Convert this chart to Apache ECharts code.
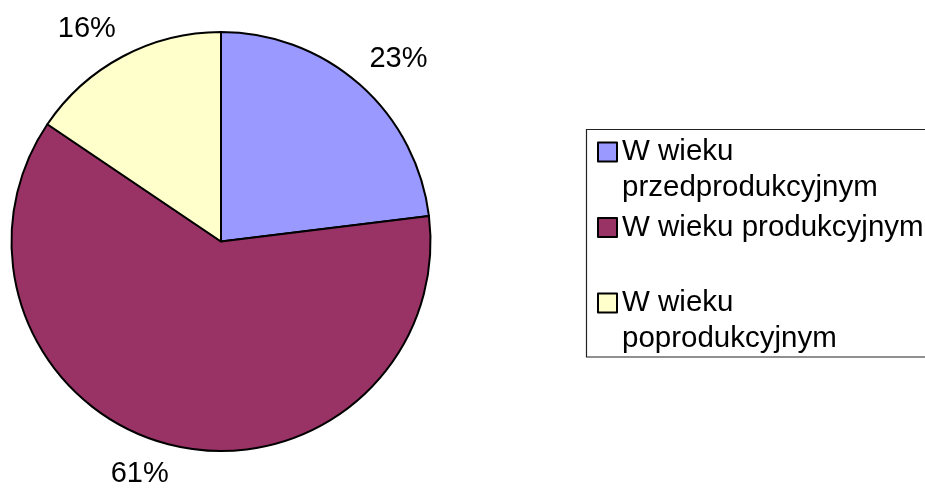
<!DOCTYPE html>
<html>
<head>
<meta charset="utf-8">
<script src="https://cdn.jsdelivr.net/npm/echarts@6/dist/echarts.min.js"></script>
<style>
  html, body { margin: 0; padding: 0; background: #fff; }
  #chart { width: 925px; height: 488px; }
</style>
</head>
<body>
<div id="chart"></div>
<script>
// data
const categories = ["W wieku przedprodukcyjnym", "W wieku produkcyjnym", "W wieku poprodukcyjnym"];
const legendLabels = ["W wieku\nprzedprodukcyjnym", "W wieku produkcyjnym", "W wieku\npoprodukcyjnym"];
const shares = [23.05, 61.4, 15.55];
const sliceColors = ["#9999ff", "#993366", "#ffffcc"];

const pieCenter = [221, 241.5];
const pieRadius = 209.5;
const fontFamily = "Liberation Sans, Arial, sans-serif";
const fontSize = 29;
const legendLineHeight = 36;

const chart = echarts.init(document.getElementById("chart"));

const total = shares.reduce((a, b) => a + b, 0);

// anchor each percentage just past the rim on the slice's middle direction,
// with the text box hanging off that point away from the pie (like the office chart)
function placeLabel(params) {
  let before = 0;
  for (let i = 0; i < params.dataIndex; i++) before += shares[i];
  const mid = (90 - 360 * (before + shares[params.dataIndex] / 2) / total) * Math.PI / 180;
  const ux = Math.cos(mid);
  const uy = -Math.sin(mid);
  const dist = pieRadius + 14.5;
  return {
    x: pieCenter[0] + ux * dist,
    y: pieCenter[1] + uy * dist,
    align: ux >= 0 ? "left" : "right",
    verticalAlign: uy < 0 ? "bottom" : "top",
  };
}

// one legend per entry so the marker sits on the first text line
const legendTops = [98, 209.5, 249];

const legends = categories.map((name, i) => {
  const wrapped = legendLabels[i].indexOf("\n") >= 0;
  return {
    left: 597,
    top: legendTops[i],
    orient: "vertical",
    padding: 0,
    icon: "rect",
    itemWidth: 19,
    itemHeight: 19,
    selectedMode: false,
    data: [
      {
        name: name,
        itemStyle: { color: sliceColors[i], borderColor: "#000", borderWidth: 2 },
      },
    ],
    formatter: function () {
      // a blank first line keeps the marker level with the first real line
      return wrapped ? "\u00a0\n" + legendLabels[i] : legendLabels[i];
    },
    textStyle: {
      fontFamily: fontFamily,
      fontSize: 29.5,
      color: "#000",
      lineHeight: legendLineHeight,
    },
  };
});

const option = {
  animation: false,
  backgroundColor: "#fff",
  color: sliceColors,
  legend: legends,
  graphic: [
    {
      type: "rect",
      shape: { x: 586.5, y: 129.5, width: 400, height: 227.5 },
      style: { fill: "none", stroke: "#222", lineWidth: 1.2 },
      silent: true,
    },
  ],
  series: [
    {
      type: "pie",
      center: pieCenter,
      radius: pieRadius,
      startAngle: 90,
      clockwise: true,
      avoidLabelOverlap: false,
      silent: true,
      itemStyle: { borderColor: "#000", borderWidth: 2 },
      label: {
        show: true,
        position: "outside",
        fontFamily: fontFamily,
        fontSize: fontSize,
        color: "#000",
        formatter: function (p) {
          return Math.round(p.percent) + "%";
        },
      },
      labelLine: { show: false },
      labelLayout: placeLabel,
      emphasis: { disabled: true },
      data: categories.map((name, i) => ({ name: name, value: shares[i] })),
    },
  ],
};

chart.setOption(option);
</script>
</body>
</html>
